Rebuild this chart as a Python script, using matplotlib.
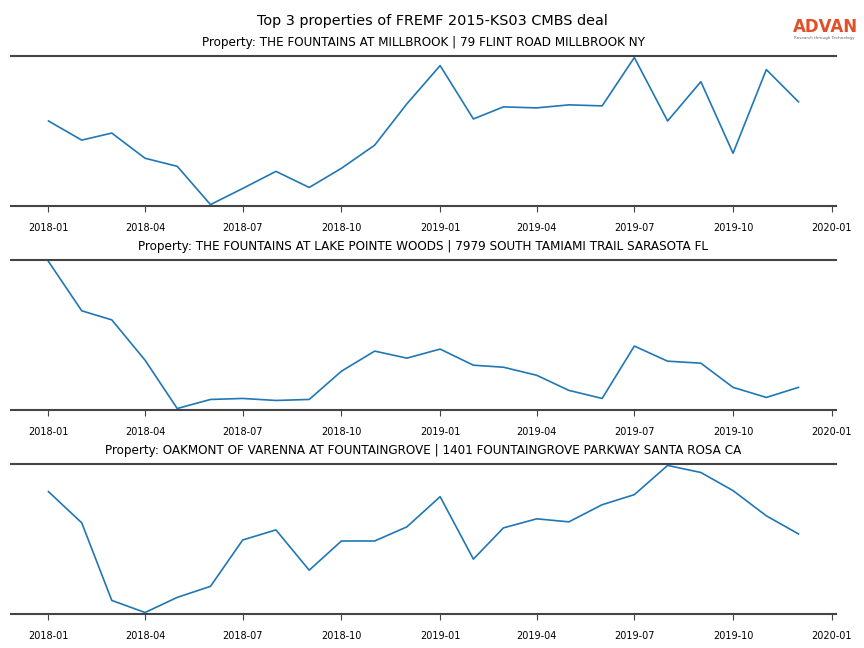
import matplotlib
matplotlib.use("Agg")
import matplotlib.pyplot as plt
import matplotlib.dates as mdates
import pandas as pd

months = pd.date_range("2018-01-01", "2019-12-01", freq="MS")

titles = [
    "Property: THE FOUNTAINS AT MILLBROOK | 79 FLINT ROAD MILLBROOK NY",
    "Property: THE FOUNTAINS AT LAKE POINTE WOODS | 7979 SOUTH TAMIAMI TRAIL SARASOTA FL",
    "Property: OAKMONT OF VARENNA AT FOUNTAINGROVE | 1401 FOUNTAINGROVE PARKWAY SANTA ROSA CA",
]

# relative foot-traffic index (axis values are hidden in the original)
millbrook = [84, 65, 72, 47, 39, 1, 17, 34, 18, 37, 60, 101,
             139, 86, 98, 97, 100, 99, 147, 84, 123, 52, 135, 103]
lake_pointe = [147, 98, 89, 49, 1, 10, 11, 9, 10, 38, 58, 51,
               60, 44, 42, 34, 19, 11, 63, 48, 46, 22, 12, 22]
oakmont = [121, 90, 13, 1, 16, 27, 73, 83, 43, 72, 72, 86,
           116, 54, 85, 94, 91, 108, 118, 147, 140, 122, 97, 79]

series = [millbrook, lake_pointe, oakmont]

fig = plt.figure(figsize=(8.64, 6.48), dpi=100)
fig.suptitle("Top 3 properties of FREMF 2015-KS03 CMBS deal", fontsize=10.4, y=0.978)

boxes = [0.682, 0.3673, 0.0525]
for bottom, title, vals in zip(boxes, titles, series):
    ax = fig.add_axes([0.0127, bottom, 0.9549, 0.2315])
    ax.plot(months, vals, color="#1f77b4", linewidth=1.2)
    ax.set_title(title, fontsize=8.65, pad=7)
    ax.margins(y=0.01)
    ax.set_yticks([])
    for side in ["left", "right"]:
        ax.spines[side].set_visible(False)
    for side in ["top", "bottom"]:
        ax.spines[side].set_linewidth(1.5)
        ax.spines[side].set_color("#444444")
    ax.xaxis.set_major_locator(mdates.MonthLocator(bymonth=[1, 4, 7, 10]))
    ax.xaxis.set_major_formatter(mdates.DateFormatter("%Y-%m"))
    ax.tick_params(axis="x", labelsize=7, length=4, pad=8, color="#444444")

# logo
fig.text(0.955, 0.958, "ADVAN", color="#E0502A", fontsize=12, ha="center",
         va="center", fontweight="bold")
fig.text(0.954, 0.941, "Research through Technology", color="#666666",
         fontsize=3, ha="center", va="center")

plt.savefig("out.png", dpi=100)
